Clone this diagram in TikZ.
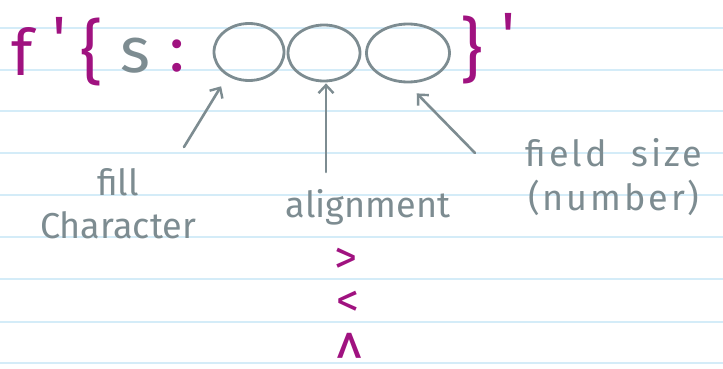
\documentclass[tikz,border=0pt]{standalone}
\usepackage{fontspec}
\setmainfont{Fira Sans}
\usetikzlibrary{arrows.meta,shapes.geometric}
\definecolor{pGray}{RGB}{125,140,145}
\definecolor{pMag}{RGB}{160,18,128}
\definecolor{pLine}{RGB}{212,236,248}

\begin{document}
\begin{tikzpicture}[x=1pt,y=-1pt,
  g/.style={text=pGray,font=\fontsize{36}{43}\selectfont,inner sep=0pt,align=center},
  m/.style={text=pMag,font=\fontsize{64}{64}\selectfont,inner sep=0pt},
  o/.style={ellipse,draw=pGray,line width=2.8pt,inner sep=0pt},
  a/.style={draw=pGray,line width=2.6pt,line cap=round,-{Straight Barb[length=8pt,width=15pt,line width=2.4pt]}}]
  \useasboundingbox[fill=white] (0,0) rectangle (723,369);
  \foreach \y in {28,70,111,153,195,237,279,322,363}
    \draw[pLine,line width=1.4pt] (0,\y) -- (723,\y);
  % top row
  \node[m] (f) at (22,52) {f};
  \node[m,anchor=north] (q1) at (60,17) {\textquotesingle};
  \node[m,font=\fontsize{70}{70}\selectfont] (lb) at (92,52) {\{};
  \node[m,text=pGray] (s) at (135,56) {s};
  \node[m] (col) at (177,56) {:};
  \node[o,minimum width=70pt,minimum height=57pt] (c1) at (249,52) {};
  \node[o,minimum width=72pt,minimum height=56pt] (c2) at (324,53) {};
  \node[o,minimum width=83pt,minimum height=58pt] (c3) at (408,53) {};
  \node[m,font=\fontsize{70}{70}\selectfont] (rb) at (472,50) {\}};
  \node[m,anchor=north] (q2) at (509,13) {\textquotesingle};
  % labels
  \node[g] (fill) at (118,204) {fill\\Character};
  \node[g,anchor=base] (align) at (368,217) {alignment};
  \node[g,font=\fontsize{36}{44}\selectfont\addfontfeature{LetterSpace=8}] (size) at (614,177) {field\ \ size\\(number)};
  \coordinate (t1) at (184,147);
  \coordinate (t2) at (326,172);
  \coordinate (t3) at (475,153);
  \draw[a,shorten >=12pt] (t1) -- (c1.228);
  \draw[a,shorten >=1pt] (t2) -- (t2 |- c2.south);
  \draw[a,shorten >=14pt] (t3) -- (c3.268);
  % alignment options
  \node[m,font=\fontsize{46}{46}\selectfont] (gt) at (346,261) {>};
  \node[m,font=\fontsize{46}{46}\selectfont] (lt) at (348,304) {<};
  \node[m,anchor=north,font=\fontsize{80}{80}\selectfont] (ct) at (350,333) {\scalebox{0.65}[1]{\textasciicircum}};
\end{tikzpicture}
\end{document}
